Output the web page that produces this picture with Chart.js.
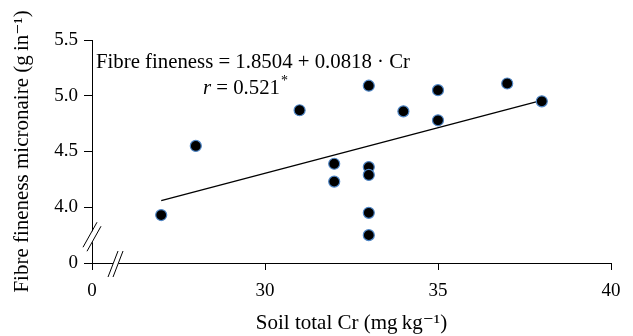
<!DOCTYPE html>
<html>
<head>
<meta charset="utf-8">
<script src="https://cdn.jsdelivr.net/npm/chart.js@4.4.1/dist/chart.umd.min.js"></script>
<style>
  html, body { margin: 0; padding: 0; background: #fff; }
  #wrap { width: 633px; height: 336px; }
</style>
</head>
<body>
<div id="wrap"><canvas id="c" width="633" height="336"></canvas></div>
<script>
// Soil total Cr (mg kg-1), with the axis break: tick "0" stands at 25 on the value scale
const soilCr = [27, 28, 31, 32, 32, 33, 33, 33, 33, 33, 34, 35, 35, 37, 38];
const fibreFineness = [3.93, 4.55, 4.87, 4.39, 4.23, 5.09, 4.36, 4.29, 3.95, 3.75, 4.86, 5.05, 4.78, 5.11, 4.95];
// regression: Fibre fineness = 1.8504 + 0.0818 * Cr
const regIntercept = 1.8504;
const regSlope = 0.0818;
const regX = [27, 38];
const regY = regX.map(v => regIntercept + regSlope * v);

const xTicks = [25, 30, 35, 40];
const xTickLabels = ['0', '30', '35', '40'];
const yTicks = [3.5, 4.0, 4.5, 5.0, 5.5];
const yTickLabels = ['0', '4.0', '4.5', '5.0', '5.5'];

const SERIF = '"Liberation Serif", "DejaVu Serif", serif';

const points = soilCr.map((x, i) => ({ x: x, y: fibreFineness[i] }));
const regLine = regX.map((x, i) => ({ x: x, y: regY[i] }));

const overlay = {
  id: 'overlay',
  afterDraw(chart) {
    const ctx = chart.ctx;
    const xs = chart.scales.x, ys = chart.scales.y;
    ctx.save();
    ctx.strokeStyle = '#000';
    ctx.lineWidth = 1;
    // y-axis break
    let cx = xs.left, cy = ys.getPixelForValue(3.74);
    ctx.fillStyle = '#fff';
    ctx.fillRect(cx - 2, cy - 5, 4, 11);
    ctx.beginPath();
    ctx.moveTo(cx - 9, cy + 11); ctx.lineTo(cx + 5, cy - 14);
    ctx.moveTo(cx - 5, cy + 15); ctx.lineTo(cx + 9, cy - 10);
    ctx.stroke();
    // x-axis break
    cx = xs.getPixelForValue(25.68); cy = ys.bottom;
    ctx.fillRect(cx - 2.5, cy - 2, 5.5, 4);
    ctx.beginPath();
    ctx.moveTo(cx - 7.5, cy + 14); ctx.lineTo(cx + 2.5, cy - 12);
    ctx.moveTo(cx - 2.5, cy + 14); ctx.lineTo(cx + 7.5, cy - 12);
    ctx.stroke();

    // equation text
    ctx.fillStyle = '#000';
    ctx.textBaseline = 'alphabetic';
    ctx.textAlign = 'left';
    ctx.font = '20.8px ' + SERIF;
    ctx.fillText('Fibre fineness = 1.8504 + 0.0818 \u00B7 Cr', 96, 67.5);
    ctx.font = 'italic 20.8px ' + SERIF;
    let x0 = 203;
    ctx.fillText('r', x0, 94);
    x0 += ctx.measureText('r').width;
    ctx.font = '20.8px ' + SERIF;
    ctx.fillText(' = 0.521', x0, 94);
    x0 += ctx.measureText(' = 0.521').width;
    ctx.font = '14px ' + SERIF;
    ctx.fillText('*', x0 + 1, 85);
    ctx.restore();
  }
};

new Chart(document.getElementById('c'), {
  data: {
    datasets: [
      {
        type: 'scatter',
        data: points,
        pointRadius: 5.5,
        pointHoverRadius: 5.5,
        pointBackgroundColor: '#000',
        pointBorderColor: '#4f86c6',
        pointBorderWidth: 1.2,
        order: 1
      },
      {
        type: 'line',
        data: regLine,
        borderColor: '#000',
        borderWidth: 1.3,
        pointRadius: 0,
        fill: false,
        order: 2
      }
    ]
  },
  options: {
    responsive: false,
    animation: false,
    events: [],
    layout: { padding: { left: 0, right: 22, top: 40, bottom: 0 } },
    plugins: { legend: { display: false }, tooltip: { enabled: false } },
    scales: {
      x: {
        type: 'linear',
        min: 25, max: 40,
        afterFit(s) { s.height = 73; },
        afterBuildTicks(s) { s.ticks = xTicks.map(v => ({ value: v })); },
        ticks: {
          color: '#000',
          font: { family: SERIF, size: 19 },
          padding: 10,
          maxRotation: 0,
          callback: (v) => { const i = xTicks.indexOf(v); return i >= 0 ? xTickLabels[i] : ''; }
        },
        grid: { display: true, drawOnChartArea: false, drawTicks: true, tickLength: 7, color: '#000' },
        border: { display: true, color: '#000', width: 1 },
        title: {
          display: true,
          text: 'Soil total Cr (mg\u2009kg\u207B\u00B9)',
          color: '#000',
          font: { family: SERIF, size: 21 },
          padding: { top: 0, bottom: 0 }
        }
      },
      y: {
        type: 'linear',
        min: 3.5, max: 5.5,
        afterFit(s) { s.width = 92; },
        afterBuildTicks(s) { s.ticks = yTicks.map(v => ({ value: v })); },
        ticks: {
          color: '#000',
          font: { family: SERIF, size: 19 },
          padding: 6,
          callback: (v) => { const i = yTicks.findIndex(t => Math.abs(t - v) < 1e-9); return i >= 0 ? yTickLabels[i] : ''; }
        },
        grid: { display: true, drawOnChartArea: false, drawTicks: true, tickLength: 8, color: '#000' },
        border: { display: true, color: '#000', width: 1 },
        title: {
          display: true,
          text: 'Fibre fineness micronaire (g\u2009in\u207B\u00B9)',
          color: '#000',
          font: { family: SERIF, size: 21 },
          padding: { top: 10, bottom: 0 }
        }
      }
    }
  },
  plugins: [overlay]
});
</script>
</body>
</html>
